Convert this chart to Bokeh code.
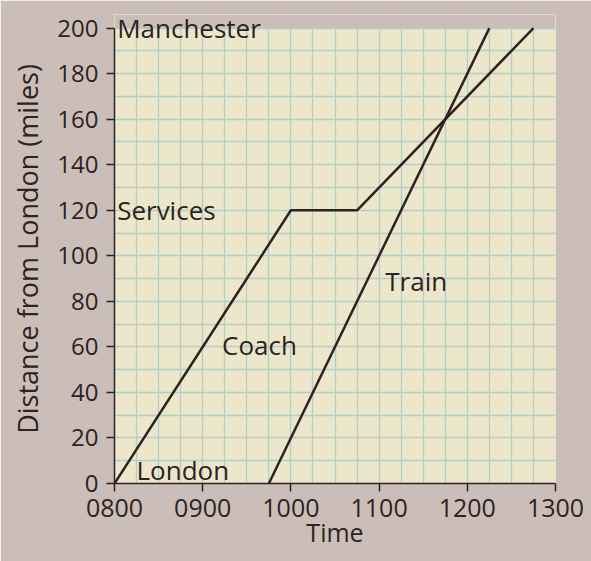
from bokeh.plotting import figure
from bokeh.models import Label, FixedTicker, SingleIntervalTicker, Range1d, BoxAnnotation
from bokeh.embed import file_html
from bokeh.resources import INLINE

# Data (time in hours, distance in miles)
coach_time = [8.0, 10.0, 10.75, 12.75]
coach_dist = [0, 120, 120, 200]
train_time = [9.75, 12.25]
train_dist = [0, 200]

x_ticks = [8, 9, 10, 11, 12, 13]
x_tick_labels = ["0800", "0900", "1000", "1100", "1200", "1300"]
y_ticks = [0, 20, 40, 60, 80, 100, 120, 140, 160, 180, 200]

FONT = "Open Sans"
INK = "#2e2222"
PAPER = "#ece7ca"
BACK = "#cbbeb9"
GRID = "#b2cfc7"

y_top = y_ticks[-1]

p = figure(width=591, height=561, output_backend="svg", toolbar_location=None,
           x_range=Range1d(x_ticks[0], x_ticks[-1]), y_range=Range1d(0, 206),
           min_border_left=114, min_border_right=36, min_border_top=14, min_border_bottom=78)
p.background_fill_color = PAPER
p.border_fill_color = BACK
p.outline_line_color = None

p.xaxis.ticker = FixedTicker(ticks=x_ticks)
p.xaxis.major_label_overrides = {t: l for t, l in zip(x_ticks, x_tick_labels)}
p.yaxis.ticker = FixedTicker(ticks=y_ticks)
p.yaxis.bounds = (0, y_top)
p.xgrid.ticker = SingleIntervalTicker(interval=0.25)
p.ygrid.ticker = SingleIntervalTicker(interval=10)
for g in (p.xgrid, p.ygrid):
    g.grid_line_color = GRID
    g.grid_line_width = 1.3

# mask the paper above the top of the graph
p.add_layout(BoxAnnotation(bottom=y_top, fill_color=BACK, fill_alpha=1.0,
                           line_color=None, level="underlay"))

p.xaxis.axis_label = "Time"
p.yaxis.axis_label = "Distance from London (miles)"
for ax in (p.xaxis, p.yaxis):
    ax.axis_line_color = INK
    ax.axis_line_width = 1.5
    ax.major_tick_line_color = INK
    ax.major_tick_line_width = 1.5
    ax.major_tick_in = 0
    ax.major_tick_out = 8
    ax.minor_tick_line_color = None
    ax.major_label_text_font = FONT
    ax.major_label_text_color = INK
    ax.axis_label_text_font = FONT
    ax.axis_label_text_font_style = "normal"
    ax.axis_label_text_color = INK
p.xaxis.major_label_text_font_size = "25px"
p.yaxis.major_label_text_font_size = "24px"
p.xaxis.axis_label_text_font_size = "25px"
p.yaxis.axis_label_text_font_size = "27px"
p.xaxis.major_label_standoff = 7
p.xaxis.axis_label_standoff = -5
p.yaxis.major_label_standoff = 8
p.yaxis.axis_label_standoff = 8

p.line(coach_time, coach_dist, line_color=INK, line_width=2.5)
p.line(train_time, train_dist, line_color=INK, line_width=2.5)

labels = [
    ("Manchester", 8.03, 200),
    ("Services", 8.03, 120),
    ("London", 8.25, 6),
    ("Coach", 9.22, 61),
    ("Train", 11.07, 89),
]
for txt, lx, ly in labels:
    p.add_layout(Label(x=lx, y=ly, text=txt, text_font=FONT, text_font_size="26px",
                       text_color=INK, text_baseline="middle", text_align="left",
                       level="overlay"))

open("out.html", "w").write(file_html(p, INLINE))
